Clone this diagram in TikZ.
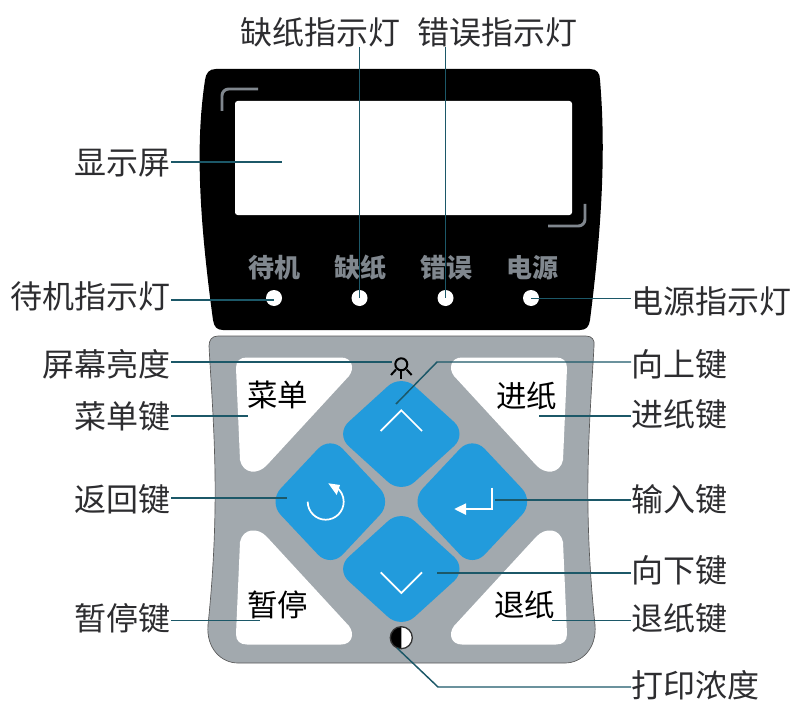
\documentclass[tikz,border=0pt]{standalone}
\usepackage{fontspec}
\setmainfont{Noto Sans CJK SC}
\usetikzlibrary{positioning}
\definecolor{leadercol}{RGB}{28,88,104}
\definecolor{textcol}{RGB}{45,45,48}
\definecolor{padgray}{RGB}{162,169,174}
\definecolor{keyblue}{RGB}{34,155,220}
\definecolor{panelgray}{RGB}{128,135,142}
\tikzset{
  lbltext/.style={inner sep=0pt,text=textcol,font=\fontsize{24}{24}\selectfont},
  keytext/.style={inner sep=0pt,text=black,font=\fontsize{22.8}{23}\selectfont},
  paneltext/.style={inner sep=0pt,text=panelgray,font=\bfseries\fontsize{19.5}{20}\selectfont},
  leader/.style={draw=leadercol,line width=1.1pt},
  keyshape/.style={fill=keyblue,rounded corners=13.5pt},
  cutshape/.style={fill=white},
  icon/.style={draw=white,line width=1.3pt},
  lamp/.style={fill=white}
}
\begin{document}
\begin{tikzpicture}[x=0.75pt,y=0.75pt,yscale=-1,xscale=1]
    \useasboundingbox (0,0) rectangle (791,702);

    %Shape: black display panel
    \fill [black] (216,69) -- (590,69) .. controls (597,69) and (600,73) .. (600,80) .. controls (605,140) and (604,210) .. (590,320) .. controls (589,327) and (586,330) .. (580,330) -- (223,330) .. controls (217,330) and (214,327) .. (213,320) .. controls (198,210) and (196,140) .. (205,80) .. controls (206,73) and (209,69) .. (216,69) -- cycle ;
    %Shape: screen
    \fill [white,rounded corners=2pt] (235,101) rectangle (572,215) ;
    %Shape: corner marks
    \draw [panelgray,line width=2.2pt,rounded corners=5pt] (258,89) -- (222,89) -- (222,111) ;
    \draw [panelgray,line width=2.2pt,rounded corners=5pt] (548,226) -- (585,226) -- (585,204) ;
    %Shape: lamps
    \fill [lamp] (274,298) circle [radius=8] ;
    \fill [lamp] (359.5,298) circle [radius=8] ;
    \fill [lamp] (445.5,298) circle [radius=8] ;
    \fill [lamp] (531,298) circle [radius=8] ;

    %Shape: gray key pad
    \draw [fill=padgray,draw=black!65,line width=0.5pt] (218,336) -- (586,336) .. controls (592,336) and (595,340) .. (594,346) .. controls (590,420) and (582,500) .. (595,625) .. controls (597,648) and (582,663) .. (565,663) -- (238,663) .. controls (221,663) and (206,648) .. (208,625) .. controls (221,500) and (213,420) .. (209,346) .. controls (209,340) and (212,336) .. (218,336) -- cycle ;
    %Shape: white corners of the pad
    \fill [cutshape] (247,357.5) -- (341,357.5) .. controls (352,357.5) and (355,368) .. (349,376) -- (267,465) .. controls (258,475) and (243,474) .. (240,460) -- (236,368) .. controls (236,361) and (240,357.5) .. (247,357.5) -- cycle ;
    \fill [cutshape] (556,357.5) -- (462,357.5) .. controls (451,357.5) and (448,368) .. (454,376) -- (536,465) .. controls (545,475) and (560,474) .. (563,460) -- (567,368) .. controls (567,361) and (563,357.5) .. (556,357.5) -- cycle ;
    \fill [cutshape] (247,644.5) -- (341,644.5) .. controls (352,644.5) and (355,634) .. (349,626) -- (267,537) .. controls (258,527) and (243,528) .. (240,542) -- (236,634) .. controls (236,641) and (240,644.5) .. (247,644.5) -- cycle ;
    \fill [cutshape] (556,644.5) -- (462,644.5) .. controls (451,644.5) and (448,634) .. (454,626) -- (536,537) .. controls (545,527) and (560,528) .. (563,542) -- (567,634) .. controls (567,641) and (563,644.5) .. (556,644.5) -- cycle ;
    %Shape: blue keys
    \fill [keyshape] (401.3,374) -- (467.3,434) -- (401.3,494) -- (335.3,434) -- cycle ;
    \fill [keyshape] (401.3,509) -- (467.3,569) -- (401.3,629) -- (335.3,569) -- cycle ;
    \fill [keyshape] (330.3,435.7) -- (392.3,501.7) -- (330.3,567.7) -- (268.3,501.7) -- cycle ;
    \fill [keyshape] (472.3,435.7) -- (534.3,501.7) -- (472.3,567.7) -- (410.3,501.7) -- cycle ;
    %Shape: key icons
    \draw [icon] (380.7,431) -- (401.3,410.3) -- (422,431) ;
    \draw [icon] (380.7,572.3) -- (401.3,593) -- (422,572.3) ;
    \draw [icon] (491.7,487.7) -- (491.7,509) -- (466,509) ;
    \fill [white] (454.3,509) -- (466,503.3) -- (466,515) -- cycle ;
    \draw [icon] (307.7,501.7) arc [start angle=180,end angle=-55,radius=18] ;
    \fill [white] (328.3,483.3) -- (340,485) -- (336.7,495) -- cycle ;
    %Shape: brightness icon
    \draw [black,line width=1.5pt] (401.3,364.3) circle [radius=6] ;
    \draw [black,line width=1.5pt] (391,375) -- (396,369.5) ;
    \draw [black,line width=1.5pt] (411.6,375) -- (406.6,369.5) ;
    \draw [black,line width=1.5pt] (401.3,370.3) -- (401.3,379) ;
    %Shape: contrast icon
    \fill [white] (401.3,637.7) circle [radius=11] ;
    \fill [black] (401.3,626.7) arc [start angle=-90,end angle=-270,radius=11] -- cycle ;
    \draw [black!80,line width=1pt] (401.3,637.7) circle [radius=11] ;

    %Text: labels on the panel and keys
    \node [paneltext] (txtStandby) at (274,268) {待机} ;
    \node [paneltext] (txtPaper) at (360,268) {缺纸} ;
    \node [paneltext] (txtError) at (446,268) {错误} ;
    \node [paneltext] (txtPower) at (532,268) {电源} ;
    \node [keytext] (txtMenu) at (277.5,395) {菜单} ;
    \node [keytext] (txtFeed) at (526.5,396) {进纸} ;
    \node [keytext] (txtPause) at (277.5,605) {暂停} ;
    \node [keytext] (txtBack) at (524.5,605) {退纸} ;

    %Text: outer labels
    \node [lbltext] (lblNoPaper) at (320,32) {缺纸指示灯} ;
    \node [lbltext] (lblFault) at (497.5,32) {错误指示灯} ;
    \node [lbltext,anchor=east] (lblScreen) at (171,163) {显示屏} ;
    \node [lbltext,anchor=east] (lblStandby) at (171,296) {待机指示灯} ;
    \node [lbltext,anchor=east] (lblBright) at (171,364) {屏幕亮度} ;
    \node [lbltext,anchor=east] (lblMenu) at (171,416) {菜单键} ;
    \node [lbltext,anchor=east] (lblReturn) at (171,499) {返回键} ;
    \node [lbltext,anchor=east] (lblPause) at (171,618) {暂停键} ;
    \node [lbltext,anchor=west] (lblPower) at (631,301) {电源指示灯} ;
    \node [lbltext,anchor=west] (lblUp) at (631,364) {向上键} ;
    \node [lbltext,anchor=west] (lblFeed) at (631,414) {进纸键} ;
    \node [lbltext,anchor=west] (lblEnter) at (631,499) {输入键} ;
    \node [lbltext,anchor=west] (lblDown) at (631,570) {向下键} ;
    \node [lbltext,anchor=west] (lblBack) at (631,618) {退纸键} ;
    \node [lbltext,anchor=west] (lblDensity) at (631,685) {打印浓度} ;

    %Points the leaders run to
    \coordinate (ptNoPaper) at (359.5,298) ;
    \coordinate (ptFault) at (445.5,298) ;
    \coordinate (ptScreen) at (282,162) ;
    \coordinate (ptStandby) at (274,300) ;
    \coordinate (ptPower) at (531,298.5) ;
    \coordinate (ptBright) at (392,362) ;
    \coordinate (ptMenu) at (248,416) ;
    \coordinate (ptReturn) at (287,498) ;
    \coordinate (ptPause) at (260,620.7) ;
    \coordinate (ptFeed) at (539,416) ;
    \coordinate (ptEnter) at (495,500) ;
    \coordinate (ptDown) at (437,573) ;
    \coordinate (ptBack) at (552,620.7) ;
    \coordinate (ptUpBend) at (437,362) ;
    \coordinate (ptUp) at (396,404) ;
    \coordinate (ptDensityBend) at (438,687) ;
    \coordinate (ptDensity) at (397,648) ;

    %Straight Lines: leaders
    \draw [leader] (lblNoPaper.south -| ptNoPaper) -- (ptNoPaper) ;
    \draw [leader] (lblFault.south -| ptFault) -- (ptFault) ;
    \draw [leader] (lblScreen.east |- ptScreen) -- (ptScreen) ;
    \draw [leader] (lblStandby.east |- ptStandby) -- (ptStandby) ;
    \draw [leader] (lblPower.west |- ptPower) -- (ptPower) ;
    \draw [leader] (lblBright.east |- ptBright) -- (ptBright) ;
    \draw [leader] (lblMenu.east |- ptMenu) -- (ptMenu) ;
    \draw [leader] (lblReturn.east |- ptReturn) -- (ptReturn) ;
    \draw [leader] (lblPause.east |- ptPause) -- (ptPause) ;
    \draw [leader] (lblFeed.west |- ptFeed) -- (ptFeed) ;
    \draw [leader] (lblEnter.west |- ptEnter) -- (ptEnter) ;
    \draw [leader] (lblDown.west |- ptDown) -- (ptDown) ;
    \draw [leader] (lblBack.west |- ptBack) -- (ptBack) ;
    \draw [leader] (lblUp.west |- ptUpBend) -- (ptUpBend) -- (ptUp) ;
    \draw [leader] (lblDensity.west |- ptDensityBend) -- (ptDensityBend) -- (ptDensity) ;
\end{tikzpicture}
\end{document}
